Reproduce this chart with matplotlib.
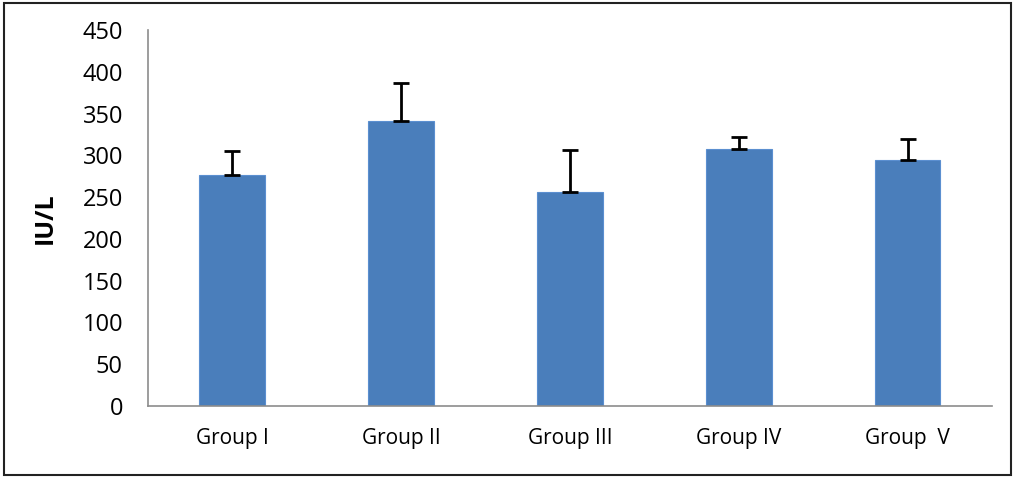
import matplotlib.pyplot as plt
from matplotlib.patches import Rectangle

groups = ['Group I', 'Group II', 'Group III', 'Group IV', 'Group  V']
values = [276, 341, 256, 308, 295]
errors = [29, 46, 50, 14, 24]

plt.rcParams['font.family'] = ['Open Sans', 'DejaVu Sans']

fig = plt.figure(figsize=(10.15, 4.79), dpi=100)
ax = fig.add_axes([0.1458, 0.1524, 0.8315, 0.785])

x = list(range(len(groups)))
ax.bar(x, values, width=0.39, color='#4a7ebb', edgecolor='#5b8fd0', linewidth=0.8,
       yerr=[[0] * len(errors), errors],
       error_kw=dict(ecolor='black', elinewidth=2, capsize=6, capthick=2))

ax.set_xlim(-0.5, len(groups) - 0.5)
ax.set_ylim(0, 450)
ax.set_yticks(range(0, 451, 50))
ax.set_xticks(x)
ax.set_xticklabels(groups, fontsize=15)
ax.tick_params(axis='y', length=0, pad=18, labelsize=17)
ax.tick_params(axis='x', length=0, pad=16)
ax.set_ylabel('IU/L', fontsize=18, fontweight='bold', labelpad=18)

for side in ['top', 'right']:
    ax.spines[side].set_visible(False)
for side in ['left', 'bottom']:
    ax.spines[side].set_color('#8c8c8c')
    ax.spines[side].set_linewidth(1.2)

# border round the whole picture
fig.patches.append(Rectangle((0.004, 0.008), 0.992, 0.985, transform=fig.transFigure,
                             fill=False, edgecolor='#222222', linewidth=1.5))

fig.savefig('out.png', dpi=100)
